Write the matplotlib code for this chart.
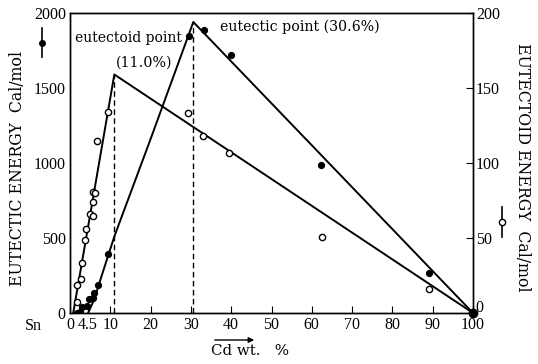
import matplotlib
matplotlib.use("Agg")
import matplotlib.pyplot as plt
import matplotlib.transforms as mtransforms

plt.rcParams['font.family'] = ['Liberation Serif', 'DejaVu Serif']

# Eutectic energy (filled points, left axis, Cal/mol)
eutectic_x = [1.8, 2.5, 3.05, 4.3, 4.8, 5.6, 6.0, 6.9, 9.4, 29.5, 33.3, 39.9, 62.3, 89.1, 100]
eutectic_y = [0, 9, 42, 47, 93, 98, 131, 187, 393, 1849, 1887, 1720, 987, 267, 0]
# Eutectic fitted curve nodes
eutectic_fit_x = [4.5, 6.0, 8.0, 11.0, 20.0, 30.6, 100]
eutectic_fit_y = [0, 90, 260, 510, 1160, 1940, 0]

# Eutectoid energy (open points, right axis, Cal/mol)
eutectoid_x = [1.65, 1.8, 2.65, 3.0, 3.6, 3.9, 5.0, 5.8, 5.6, 5.8, 6.2, 6.7, 9.35, 29.3, 33.1, 39.5, 62.5, 89.2]
eutectoid_y = [7.5, 19, 23, 33.5, 49, 56, 66, 65, 74, 81, 80, 115, 134, 133.5, 118, 107, 51, 16]
eutectoid_fit_x = [0.8, 11.0, 100]
eutectoid_fit_y = [0, 159, 0]

eutectoid_pt = 11.0
eutectic_pt = 30.6

xticks = [0, 4.5, 10, 20, 30, 40, 50, 60, 70, 80, 90, 100]
xtick_labels = ['0', '4.5', '10', '20', '30', '40', '50', '60', '70', '80', '90', '100']
yticks_left = [0, 500, 1000, 1500, 2000]
yticks_right = [0, 50, 100, 150, 200]

fig = plt.figure(figsize=(5.38, 3.64), dpi=100)
ax = fig.add_axes([70/538, 1-313/364, 403/538, 300/364])
ax2 = ax.twinx()

ax.set_xlim(0, 100)
ax.set_ylim(0, 2000)
ax2.set_ylim(0, 200)

# lines
ax.plot(eutectic_fit_x, eutectic_fit_y, color='black', lw=1.4, zorder=3)
ax2.plot(eutectoid_fit_x, eutectoid_fit_y, color='black', lw=1.4, zorder=3)

# dashed verticals
ax.plot([eutectoid_pt, eutectoid_pt], [0, 1590], color='black', lw=1.0, ls=(0, (4, 2.5)))
ax.plot([eutectic_pt, eutectic_pt], [0, 1940], color='black', lw=1.0, ls=(0, (4, 2.5)))

# points
ax.plot(eutectic_x, eutectic_y, 'o', color='black', ms=4.2, zorder=5)
ax2.plot(eutectoid_x, eutectoid_y, 'o', mfc='white', mec='black', mew=1.0, ms=4.5, zorder=5)
ax.plot([100], [0], 'o', color='black', ms=6, zorder=6, clip_on=False)

ax.set_xticks(xticks)
ax.set_xticklabels(xtick_labels)
ax.set_yticks(yticks_left)
ax2.set_yticks(yticks_right)
ax.tick_params(axis='x', direction='in', length=5, pad=3, labelsize=11.5)
ax.tick_params(axis='y', direction='in', length=0, pad=3, labelsize=11.5)
ax2.tick_params(axis='y', direction='in', length=5, pad=2, labelsize=11.5)

# lift the right-axis "0" label a little so it sits above the "100" x label
fig.canvas.draw()
lbl0 = ax2.get_yticklabels()[0]
lbl0.set_transform(lbl0.get_transform() + mtransforms.ScaledTranslation(0, 7/100, fig.dpi_scale_trans))

for a in (ax, ax2):
    for s in a.spines.values():
        s.set_linewidth(1.0)

# annotations
ann_font = ['DejaVu Serif']
ax.text(1.2, 1833, 'eutectoid point', fontsize=10, family=ann_font, ha='left', va='center')
ax.text(18.4, 1667, '(11.0%)', fontsize=10.3, family=ann_font, ha='center', va='center')
ax.text(37.2, 1907, 'eutectic point (30.6%)', fontsize=10.2, family=ann_font, ha='left', va='center')

# axis labels
fig.text(18/538, 1-168/364, 'EUTECTIC ENERGY  Cal/mol', rotation=90, fontsize=11.3,
         family=ann_font, ha='center', va='center')
fig.text(522/538, 1-167/364, 'EUTECTOID ENERGY  Cal/mol', rotation=-90, fontsize=11.3,
         family=ann_font, ha='center', va='center')

# legend-like symbols
fig.lines.append(plt.Line2D([42/538, 42/538], [1-28/364, 1-57/364], color='black', lw=1.2,
                            transform=fig.transFigure))
fig.lines.append(plt.Line2D([42/538], [1-43/364], marker='o', color='black', ms=4,
                            transform=fig.transFigure))
fig.lines.append(plt.Line2D([502/538, 502/538], [1-207/364, 1-237/364], color='black', lw=1.2,
                            transform=fig.transFigure))
fig.lines.append(plt.Line2D([502/538], [1-222/364], marker='o', mfc='white', mec='black',
                            ms=4.5, color='black', transform=fig.transFigure))

fig.text(33/538, 1-326/364, 'Sn', fontsize=11.5, ha='center', va='center')
fig.text(250/538, 1-351/364, 'Cd wt.   %', fontsize=10.8, family=ann_font, ha='center', va='center')
fig.add_artist(matplotlib.patches.FancyArrowPatch((212/538, 1-340/364), (257/538, 1-340/364),
               transform=fig.transFigure, arrowstyle='-|>', mutation_scale=8,
               color='black', lw=1.0))

fig.savefig('out.png', dpi=100)
